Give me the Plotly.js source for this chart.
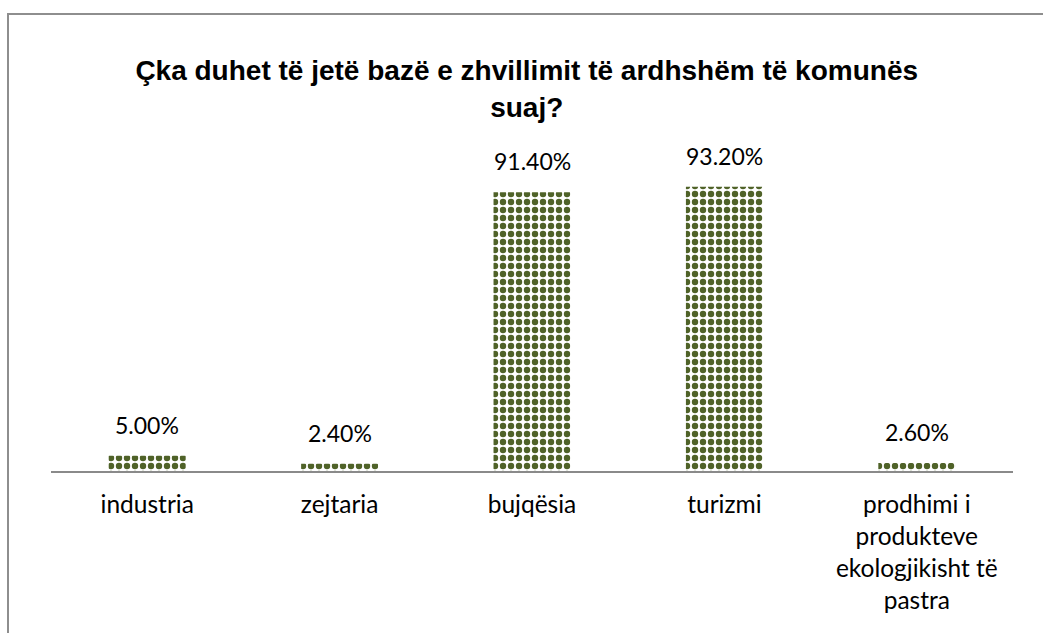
<!DOCTYPE html>
<html>
<head>
<meta charset="utf-8">
<script src="https://cdn.plot.ly/plotly-3.0.1.min.js"></script>
<style>
  html, body { margin: 0; padding: 0; background: #fff; overflow: hidden; }
  #frame { position: absolute; left: 7px; top: 13px; width: 1100px; height: 700px; border-left: 2px solid #8e8e8e; border-top: 2px solid #8e8e8e; box-sizing: border-box; pointer-events: none; z-index: 5; }
  #chart { position: absolute; left: 0; top: 0; width: 1043px; height: 633px; }
</style>
</head>
<body>
<div id="chart"></div>
<div id="frame"></div>
<script>
const categories = ["industria", "zejtaria", "bujqësia", "turizmi", "prodhimi i<br>produkteve<br>ekologjikisht të<br>pastra"];
const values = [5.0, 2.4, 91.4, 93.2, 2.6];
const valueLabels = ["5.00%", "2.40%", "91.40%", "93.20%", "2.60%"];
const chartTitle = "Çka duhet të jetë bazë e zhvillimit të ardhshëm të komunës<br>suaj?";

const trace = {
  type: "bar",
  x: categories,
  y: values,
  marker: {
    color: "#ffffff",
    line: { width: 0 },
    pattern: { shape: ".", fgcolor: "#4F6228", bgcolor: "#ffffff", size: 8, solidity: 0.5, fillmode: "replace" }
  },
  hoverinfo: "none"
};

const annotations = categories.map((c, i) => ({
  x: c, y: values[i], xref: "x", yref: "y",
  text: valueLabels[i], showarrow: false,
  yanchor: "middle", yshift: 31,
  font: { family: "Lato, 'Open Sans', sans-serif", size: 23, color: "#000" }
}));

const layout = {
  width: 1043, height: 633,
  margin: { l: 51, r: 30, t: 166, b: 162 },
  paper_bgcolor: "#ffffff",
  plot_bgcolor: "#ffffff",
  showlegend: false,
  bargap: 0.6,
  title: {
    text: chartTitle,
    x: 0.505, xanchor: "center",
    y: 0.873, yanchor: "middle",
    font: { family: "'Liberation Sans', Arial, sans-serif", size: 28, color: "#000", weight: "bold" }
  },
  xaxis: {
    type: "category",
    showline: true, linecolor: "#8a8a8a", linewidth: 2,
    showgrid: false, zeroline: false,
    ticks: "outside", ticklen: 11, tickcolor: "rgba(0,0,0,0)",
    tickfont: { family: "Lato, 'Open Sans', sans-serif", size: 24.5, color: "#000" },
    fixedrange: true
  },
  yaxis: {
    range: [0, 100],
    visible: false,
    showgrid: false, zeroline: false,
    fixedrange: true
  },
  annotations: annotations
};

Plotly.newPlot("chart", [trace], layout, { displayModeBar: false, staticPlot: true });
</script>
</body>
</html>
